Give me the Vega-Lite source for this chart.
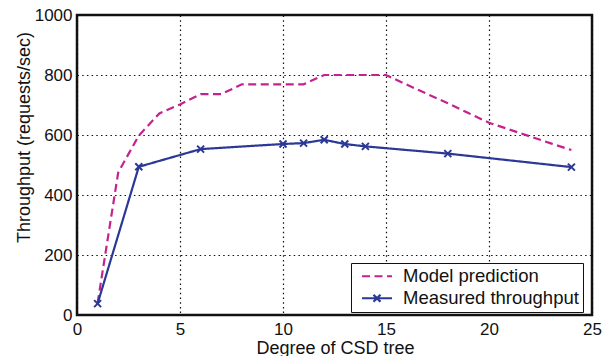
{
  "$schema": "https://vega.github.io/schema/vega-lite/v6.json",
  "autosize": {"type": "none"},
  "width": 515,
  "height": 300,
  "padding": {"left": 77, "top": 15, "right": 18, "bottom": 41},
  "background": "white",
  "config": {
    "font": "Liberation Sans",
    "view": {"stroke": "#111111", "strokeWidth": 2.5},
    "axis": {"labelFont": "Liberation Sans", "titleFont": "Liberation Sans", "labelColor": "#111", "titleColor": "#111", "titleFontWeight": "normal"}
  },
  "data": {"values": [
    {"series": "Model prediction", "x": 1, "y": 40},
    {"series": "Model prediction", "x": 2, "y": 475},
    {"series": "Model prediction", "x": 3, "y": 598},
    {"series": "Model prediction", "x": 4, "y": 672},
    {"series": "Model prediction", "x": 5, "y": 702},
    {"series": "Model prediction", "x": 6, "y": 736},
    {"series": "Model prediction", "x": 7, "y": 736},
    {"series": "Model prediction", "x": 8, "y": 769},
    {"series": "Model prediction", "x": 9, "y": 769},
    {"series": "Model prediction", "x": 10, "y": 769},
    {"series": "Model prediction", "x": 11, "y": 769},
    {"series": "Model prediction", "x": 12, "y": 800},
    {"series": "Model prediction", "x": 13, "y": 800},
    {"series": "Model prediction", "x": 14, "y": 800},
    {"series": "Model prediction", "x": 15, "y": 800},
    {"series": "Model prediction", "x": 16, "y": 768},
    {"series": "Model prediction", "x": 17, "y": 737},
    {"series": "Model prediction", "x": 18, "y": 706},
    {"series": "Model prediction", "x": 19, "y": 673},
    {"series": "Model prediction", "x": 20, "y": 641},
    {"series": "Model prediction", "x": 21, "y": 618},
    {"series": "Model prediction", "x": 22, "y": 595},
    {"series": "Model prediction", "x": 23, "y": 572},
    {"series": "Model prediction", "x": 24, "y": 550},
    {"series": "Measured throughput", "x": 1, "y": 38},
    {"series": "Measured throughput", "x": 3, "y": 494},
    {"series": "Measured throughput", "x": 6, "y": 553},
    {"series": "Measured throughput", "x": 10, "y": 570},
    {"series": "Measured throughput", "x": 11, "y": 573},
    {"series": "Measured throughput", "x": 12, "y": 584},
    {"series": "Measured throughput", "x": 13, "y": 570},
    {"series": "Measured throughput", "x": 14, "y": 562},
    {"series": "Measured throughput", "x": 18, "y": 538},
    {"series": "Measured throughput", "x": 24, "y": 493}
  ]},
  "encoding": {
    "x": {"field": "x", "type": "quantitative",
      "scale": {"domain": [0, 25], "nice": false, "zero": false},
      "axis": {"title": "Degree of CSD tree", "values": [0, 5, 10, 15, 20, 25], "format": "d", "domain": false, "ticks": false,
        "labelFontSize": 17, "labelPadding": 6, "labelFlush": false,
        "titleFontSize": 18, "titleX": 258, "titleY": 38, "titleBaseline": "alphabetic",
        "grid": true, "gridColor": "#111", "gridDash": [1.5, 3.2], "gridWidth": 1.2, "gridOpacity": 1}},
    "y": {"field": "y", "type": "quantitative",
      "scale": {"domain": [0, 1000], "nice": false},
      "axis": {"title": "Throughput (requests/sec)", "values": [0, 200, 400, 600, 800, 1000], "format": "d", "domain": false, "ticks": false,
        "labelFontSize": 17, "labelPadding": 5, "labelFlush": false,
        "titleFontSize": 18, "titleX": -53, "titleY": 122, "titleBaseline": "middle", "titleAlign": "center",
        "grid": true, "gridColor": "#111", "gridDash": [1.5, 3.2], "gridWidth": 1.2, "gridOpacity": 1}}
  },
  "layer": [
    {
      "mark": {"type": "line", "strokeWidth": 2.2},
      "encoding": {
        "color": {"field": "series", "type": "nominal",
          "scale": {"domain": ["Model prediction", "Measured throughput"], "range": ["#c2238f", "#2b3896"]},
          "legend": {"title": null, "orient": "none", "legendX": 274, "legendY": 248,
            "strokeColor": "#111", "fillColor": "white", "padding": 4,
            "labelFontSize": 18.5, "labelFont": "Liberation Sans", "labelColor": "#111", "labelLimit": 0,
            "symbolSize": 100, "symbolStrokeWidth": 2.2, "rowPadding": 3,
            "encode": {
              "symbols": {"update": {
                "x": {"value": 22},
                "shape": {"signal": "datum.value === 'Measured throughput' ? 'M-3,0L3,0M-0.7,-0.7L0.7,0.7M-0.7,0.7L0.7,-0.7' : 'M-3,0L3,0'"},
                "strokeDash": {"signal": "datum.value === 'Measured throughput' ? [1,0] : [7,4]"}}},
              "labels": {"update": {"x": {"value": 48}}}}}},
        "strokeDash": {"field": "series", "type": "nominal",
          "scale": {"domain": ["Model prediction", "Measured throughput"], "range": [[8, 4.5], [1, 0]]},
          "legend": {"title": null, "orient": "none", "legendX": 274, "legendY": 248,
            "strokeColor": "#111", "fillColor": "white", "padding": 4,
            "labelFontSize": 18.5, "labelFont": "Liberation Sans", "labelColor": "#111", "labelLimit": 0,
            "symbolSize": 100, "symbolStrokeWidth": 2.2, "rowPadding": 3,
            "encode": {
              "symbols": {"update": {
                "x": {"value": 22},
                "shape": {"signal": "datum.value === 'Measured throughput' ? 'M-3,0L3,0M-0.7,-0.7L0.7,0.7M-0.7,0.7L0.7,-0.7' : 'M-3,0L3,0'"},
                "strokeDash": {"signal": "datum.value === 'Measured throughput' ? [1,0] : [7,4]"}}},
              "labels": {"update": {"x": {"value": 48}}}}}}
      }
    },
    {
      "transform": [{"filter": "datum.series === 'Measured throughput'"}],
      "mark": {"type": "point", "shape": "M-1,-1L1,1M-1,1L1,-1", "filled": false, "size": 49, "strokeWidth": 2, "opacity": 1, "color": "#2b3896"}
    }
  ]
}
